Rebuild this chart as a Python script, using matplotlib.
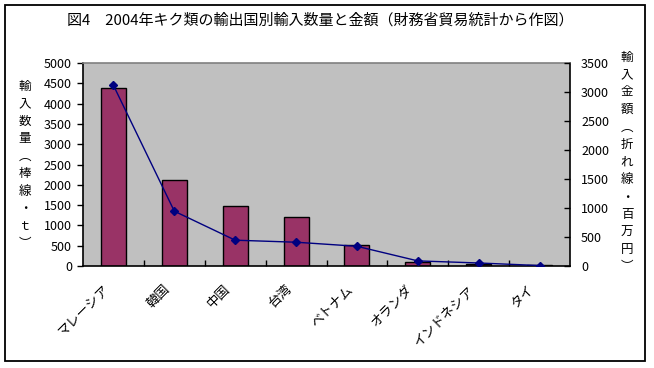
import matplotlib.pyplot as plt
import matplotlib.transforms as mtransforms
from matplotlib.patches import Rectangle
from matplotlib.ticker import MultipleLocator, FixedLocator
import numpy as np

plt.rcParams['font.family'] = ['Noto Sans CJK JP', 'DejaVu Sans']

# data
countries = ['マレーシア', '韓国', '中国', '台湾', 'ベトナム', 'オランダ', 'インドネシア', 'タイ']
quantity_t = [4380, 2110, 1470, 1200, 515, 100, 55, 15]      # bars, left axis
value_mil_yen = [3115, 945, 445, 410, 340, 88, 52, 8]        # line, right axis

title = '図4\u30002004年キク類の輸出国別輸入数量と金額（財務省貿易統計から作図）'
left_label = ['輸', '入', '数', '量', '\ufe35', '棒', '線', '・', 'ｔ', '\ufe36']
right_label = ['輸', '入', '金', '額', '\ufe35', '折', 'れ', '線', '・', '百', '万', '円', '\ufe36']

fig = plt.figure(figsize=(6.54, 3.68), dpi=100)
fig.patch.set_facecolor('white')
fig.patches.append(Rectangle((5 / 654, 1 - 361 / 368), 640 / 654, 356 / 368,
                             transform=fig.transFigure, fill=False,
                             edgecolor='black', linewidth=1.3))

ax = fig.add_axes([83 / 654, 1 - 266 / 368, 487 / 654, 203 / 368])
ax.set_facecolor('#C0C0C0')
x = np.arange(len(countries))
ax.bar(x, quantity_t, width=0.41, color='#993366', edgecolor='black', linewidth=1.0, zorder=2)
ax.set_xlim(-0.5, len(countries) - 0.5)
ax.set_ylim(0, 5000)
ax.yaxis.set_major_locator(MultipleLocator(500))
ax.tick_params(axis='y', direction='out', length=4, width=1, labelsize=9, pad=4)

ax.set_xticks(x)
ax.set_xticklabels(countries, rotation=45, ha='right', va='top',
                   rotation_mode='anchor', fontsize=9.5)
ax.tick_params(axis='x', which='major', length=0, pad=12)
ax.xaxis.set_minor_locator(FixedLocator(x[:-1] + 0.5))
ax.tick_params(axis='x', which='minor', direction='in', length=4, width=1)
for lab in ax.get_xticklabels():
    lab.set_transform(lab.get_transform() +
                      mtransforms.ScaledTranslation(-8 / 72, 0, fig.dpi_scale_trans))

for s in ['left', 'bottom', 'right']:
    ax.spines[s].set_color('black')
    ax.spines[s].set_linewidth(1.2)
ax.spines['top'].set_color('#808080')
ax.spines['top'].set_linewidth(1.2)

ax2 = ax.twinx()
ax2.plot(x, value_mil_yen, color='#000080', linewidth=1.0, marker='D',
         markersize=4, markerfacecolor='#000080', markeredgecolor='#000080', zorder=3)
ax2.set_ylim(0, 3500)
ax2.yaxis.set_major_locator(MultipleLocator(500))
ax2.tick_params(axis='y', direction='in', length=4, width=1, labelsize=9, pad=8)
for s in ax2.spines.values():
    s.set_visible(False)

fig.text(320 / 654, 1 - 20 / 368, title, ha='center', va='center', fontsize=10.8)
fig.text(25 / 654, 1 - 165 / 368, '\n'.join(left_label), ha='center', va='center',
         fontsize=9, linespacing=1.45)
fig.text(627 / 654, 1 - 162 / 368, '\n'.join(right_label), ha='center', va='center',
         fontsize=9, linespacing=1.45)

fig.savefig('out.png', dpi=100)
